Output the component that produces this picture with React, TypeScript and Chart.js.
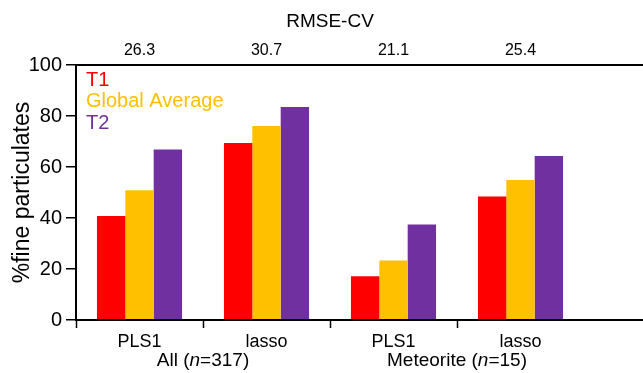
import { useEffect, useRef } from "react";
import { Chart, registerables } from "chart.js";

Chart.register(...registerables);

// Model per category, RMSE-CV shown on the top axis
const methods = ["PLS1", "lasso", "PLS1", "lasso"];
const rmseCv = ["26.3", "30.7", "21.1", "25.4"];

// Sample groups, each spanning two categories
const groupNames = ["All", "Meteorite"];
const groupCounts = ["317", "15"];

// %fine particulates per series
const t1 = [40.8, 69.4, 17.2, 48.4];
const globalAverage = [50.9, 76.1, 23.3, 54.9];
const t2 = [66.9, 83.5, 37.5, 64.3];

const seriesNames = ["T1", "Global Average", "T2"];
const seriesColors = ["#FF0000", "#FFC000", "#7030A0"];

const FONT = "'Liberation Sans', Arial, Helvetica, sans-serif";

const decorations = {
  id: "decorations",
  afterDraw(chart: any) {
    const { ctx, chartArea, scales } = chart;
    const x = scales.x;
    const left = chartArea.left;
    const w = chart.width;
    const half = (x.getPixelForValue(1) - x.getPixelForValue(0)) / 2;

    ctx.save();
    ctx.strokeStyle = "#000";
    ctx.lineWidth = 2;
    // bottom and top axis lines run to the edge
    ctx.beginPath();
    ctx.moveTo(left - 1, chartArea.bottom);
    ctx.lineTo(w, chartArea.bottom);
    ctx.moveTo(left - 1, chartArea.top);
    ctx.lineTo(w, chartArea.top);
    ctx.stroke();

    // category separator ticks below the bottom axis
    ctx.lineWidth = 1.5;
    ctx.beginPath();
    for (let i = 0; i < methods.length; i++) {
      const bx = Math.round(x.getPixelForValue(i) - half) + 0.5;
      ctx.moveTo(bx, chartArea.bottom);
      ctx.lineTo(bx, chartArea.bottom + 8);
    }
    ctx.stroke();

    // group labels with italic n
    ctx.fillStyle = "#000";
    ctx.textBaseline = "middle";
    ctx.textAlign = "left";
    const normal = `19px ${FONT}`;
    const italic = `italic 19px ${FONT}`;
    groupNames.forEach((name, g) => {
      const cx = (x.getPixelForValue(2 * g) + x.getPixelForValue(2 * g + 1)) / 2;
      const parts: [string, string][] = [
        [`${name} (`, normal],
        ["n", italic],
        [`=${groupCounts[g]})`, normal],
      ];
      let total = 0;
      parts.forEach(([t, f]) => {
        ctx.font = f;
        total += ctx.measureText(t).width;
      });
      let px = cx - total / 2;
      const py = chartArea.bottom + 41;
      parts.forEach(([t, f]) => {
        ctx.font = f;
        ctx.fillText(t, px, py);
        px += ctx.measureText(t).width;
      });
    });

    // series key as coloured text
    ctx.font = `20px ${FONT}`;
    seriesNames.forEach((name, i) => {
      ctx.fillStyle = seriesColors[i];
      ctx.fillText(name, left + 10, chartArea.top + 15 + i * 21.5);
    });
    ctx.restore();
  },
};

export default function App() {
  const ref = useRef<HTMLCanvasElement>(null);

  useEffect(() => {
    if (!ref.current) return;
    const chart = new Chart(ref.current, {
      type: "bar",
      data: {
        labels: methods,
        datasets: [
          { label: seriesNames[0], data: t1, backgroundColor: seriesColors[0] },
          { label: seriesNames[1], data: globalAverage, backgroundColor: seriesColors[1] },
          { label: seriesNames[2], data: t2, backgroundColor: seriesColors[2] },
        ],
      },
      options: {
        animation: false,
        responsive: false,
        devicePixelRatio: 1,
        layout: { padding: { left: 0, right: 59, top: 0, bottom: 0 } },
        datasets: {
          bar: { categoryPercentage: 0.67, barPercentage: 1.0, borderWidth: 0 },
        },
        plugins: {
          legend: { display: false },
          tooltip: { enabled: false },
        },
        scales: {
          x: {
            type: "category",
            position: "bottom",
            offset: true,
            grid: { display: false, drawTicks: false },
            border: { display: false },
            ticks: {
              color: "#000",
              font: { size: 18, family: FONT },
              padding: 11,
              autoSkip: false,
              maxRotation: 0,
            },
            afterFit: (s: any) => {
              s.height = 53;
            },
          },
          x2: {
            type: "category",
            labels: rmseCv,
            position: "top",
            offset: true,
            grid: { display: false, drawTicks: false },
            border: { display: false },
            ticks: {
              color: "#000",
              font: { size: 16, family: FONT },
              padding: 5,
              autoSkip: false,
              maxRotation: 0,
            },
            title: {
              display: true,
              text: "RMSE-CV",
              color: "#000",
              font: { size: 19, family: FONT },
              padding: { top: 10, bottom: 0 },
            },
            afterFit: (s: any) => {
              s.height = 65;
            },
          },
          y: {
            min: 0,
            max: 100,
            ticks: {
              stepSize: 20,
              color: "#000",
              font: { size: 20, family: FONT },
              padding: 4,
            },
            grid: {
              drawOnChartArea: false,
              drawTicks: true,
              tickLength: 10,
              color: "#000",
              lineWidth: 1.5,
            },
            border: { display: true, color: "#000", width: 2 },
            title: {
              display: true,
              text: "%fine particulates",
              color: "#000",
              font: { size: 23, family: FONT },
              padding: { top: 9, bottom: 0 },
            },
            afterFit: (s: any) => {
              s.width = 76;
            },
          },
        },
      },
      plugins: [decorations],
    });
    return () => chart.destroy();
  }, []);

  return (
    <div
      style={{
        position: "fixed",
        left: 0,
        top: 0,
        width: 643,
        height: 373,
        overflow: "hidden",
        background: "#fff",
      }}
    >
      <canvas ref={ref} width={643} height={373} style={{ display: "block" }} />
    </div>
  );
}
